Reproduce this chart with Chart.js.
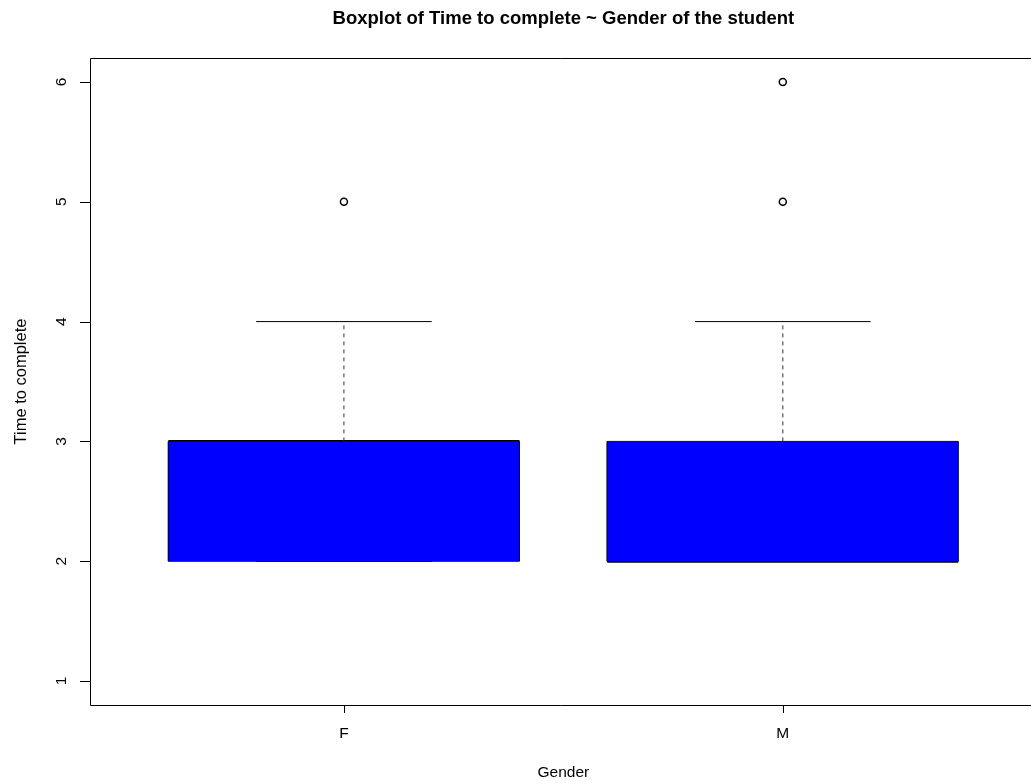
<!DOCTYPE html>
<html lang="en">
<head>
    <meta charset="UTF-8">
    <script src="https://cdn.jsdelivr.net/npm/chart.js"></script>
    <title>Boxplot of Time to complete ~ Gender of the student</title>
    <style>
        html, body {
            margin: 0;
            padding: 0;
            background: #ffffff;
            overflow: hidden;
        }

        .chart-container {
            position: relative;
            width: 1031px;
            height: 784px;
        }

        canvas {
            display: block;
        }
    </style>
</head>
<body>
    <div class="chart-container">
        <canvas id="boxChart"></canvas>
    </div>

    <script>
        // data
        const groups = ['F', 'M'];
        const whiskLow = [2, 2];
        const q1 = [2, 2];
        const median = [3, 2];
        const q3 = [3, 3];
        const whiskHigh = [4, 4];
        const outliers = [[5], [5, 6]];
        const yTicks = [1, 2, 3, 4, 5, 6];

        const title = 'Boxplot of Time to complete ~ Gender of the student';
        const xTitle = 'Gender';
        const yTitle = 'Time to complete';

        const boxHalf = 0.4;
        const capHalf = 0.2;
        const fontFamily = '"Liberation Sans", Arial, sans-serif';

        function seg(x0, y0, x1, y1) {
            return [{ x: x0, y: y0 }, { x: x1, y: y1 }];
        }

        const datasets = [];
        groups.forEach(function (g, i) {
            const x = i + 1;
            // box fill
            datasets.push({
                data: seg(x - boxHalf, q3[i], x + boxHalf, q3[i]),
                fill: { value: q1[i] },
                backgroundColor: '#0000ff',
                borderWidth: 0,
                pointRadius: 0
            });
            // box outline
            datasets.push({
                data: [
                    { x: x - boxHalf, y: q1[i] }, { x: x + boxHalf, y: q1[i] },
                    { x: x + boxHalf, y: q3[i] }, { x: x - boxHalf, y: q3[i] },
                    { x: x - boxHalf, y: q1[i] }
                ],
                borderColor: '#000000',
                borderWidth: 1,
                pointRadius: 0
            });
            // whiskers (dashed)
            datasets.push({
                data: seg(x, q3[i], x, whiskHigh[i]),
                borderColor: '#333333',
                borderWidth: 1,
                borderDash: [4, 4],
                pointRadius: 0
            });
            datasets.push({
                data: seg(x, whiskLow[i], x, q1[i]),
                borderColor: '#333333',
                borderWidth: 1,
                borderDash: [4, 4],
                pointRadius: 0
            });
            // caps
            datasets.push({
                data: seg(x - capHalf, whiskHigh[i], x + capHalf, whiskHigh[i]),
                borderColor: '#000000',
                borderWidth: 1,
                pointRadius: 0
            });
            datasets.push({
                data: seg(x - capHalf, whiskLow[i], x + capHalf, whiskLow[i]),
                borderColor: '#000000',
                borderWidth: 1,
                pointRadius: 0
            });
            // median
            datasets.push({
                data: seg(x - boxHalf, median[i], x + boxHalf, median[i]),
                borderColor: '#000000',
                borderWidth: 3,
                pointRadius: 0
            });
            // outliers
            datasets.push({
                data: outliers[i].map(function (v) { return { x: x, y: v }; }),
                showLine: false,
                pointRadius: 3.5,
                pointBorderWidth: 1.5,
                pointBorderColor: '#000000',
                pointBackgroundColor: '#ffffff'
            });
        });

        // R style frame, ticks and labels
        const rAxes = {
            id: 'rAxes',
            afterDraw: function (chart) {
                const ctx = chart.ctx;
                const area = chart.chartArea;
                const xs = chart.scales.x;
                const ys = chart.scales.y;
                // the plot region runs a little past the right edge of the picture
                const midX = (xs.getPixelForValue(0.42) + xs.getPixelForValue(2.58)) / 2;
                ctx.save();
                ctx.strokeStyle = '#000000';
                ctx.lineWidth = 1;

                ctx.beginPath();
                ctx.moveTo(chart.width + 2, area.top + 0.5);
                ctx.lineTo(area.left + 0.5, area.top + 0.5);
                ctx.lineTo(area.left + 0.5, area.bottom + 0.5);
                ctx.lineTo(chart.width + 2, area.bottom + 0.5);
                ctx.stroke();

                ctx.fillStyle = '#000000';
                ctx.font = '15.5px ' + fontFamily;

                // y axis
                ctx.beginPath();
                yTicks.forEach(function (v) {
                    const py = Math.round(ys.getPixelForValue(v)) + 0.5;
                    ctx.moveTo(area.left - 10, py);
                    ctx.lineTo(area.left, py);
                });
                ctx.stroke();
                yTicks.forEach(function (v) {
                    ctx.save();
                    ctx.translate(area.left - 28, ys.getPixelForValue(v));
                    ctx.rotate(-Math.PI / 2);
                    ctx.textAlign = 'center';
                    ctx.textBaseline = 'middle';
                    ctx.fillText(String(v), 0, 0);
                    ctx.restore();
                });

                // x axis
                ctx.beginPath();
                groups.forEach(function (g, i) {
                    const px = Math.round(xs.getPixelForValue(i + 1)) + 0.5;
                    ctx.moveTo(px, area.bottom);
                    ctx.lineTo(px, area.bottom + 8);
                });
                ctx.stroke();
                ctx.textAlign = 'center';
                ctx.textBaseline = 'middle';
                groups.forEach(function (g, i) {
                    ctx.fillText(g, xs.getPixelForValue(i + 1), area.bottom + 29);
                });

                // axis titles
                ctx.fillText(xTitle, midX, 773);
                ctx.save();
                ctx.translate(21, (area.top + area.bottom) / 2);
                ctx.rotate(-Math.PI / 2);
                ctx.font = '16.5px ' + fontFamily;
                ctx.fillText(yTitle, 0, 0);
                ctx.restore();

                // main title
                ctx.font = 'bold 18.5px ' + fontFamily;
                ctx.fillText(title, midX, 19);
                ctx.restore();
            }
        };

        new Chart(document.getElementById('boxChart').getContext('2d'), {
            type: 'line',
            data: { datasets: datasets },
            options: {
                responsive: true,
                maintainAspectRatio: false,
                animation: false,
                layout: {
                    padding: { left: 90, top: 58, right: 0, bottom: 79 }
                },
                plugins: {
                    legend: { display: false },
                    tooltip: { enabled: false }
                },
                scales: {
                    x: {
                        type: 'linear',
                        display: false,
                        min: 0.4214,
                        max: 2.553
                    },
                    y: {
                        type: 'linear',
                        display: false,
                        min: 0.8,
                        max: 6.2
                    }
                }
            },
            plugins: [rAxes]
        });
    </script>
</body>
</html>
